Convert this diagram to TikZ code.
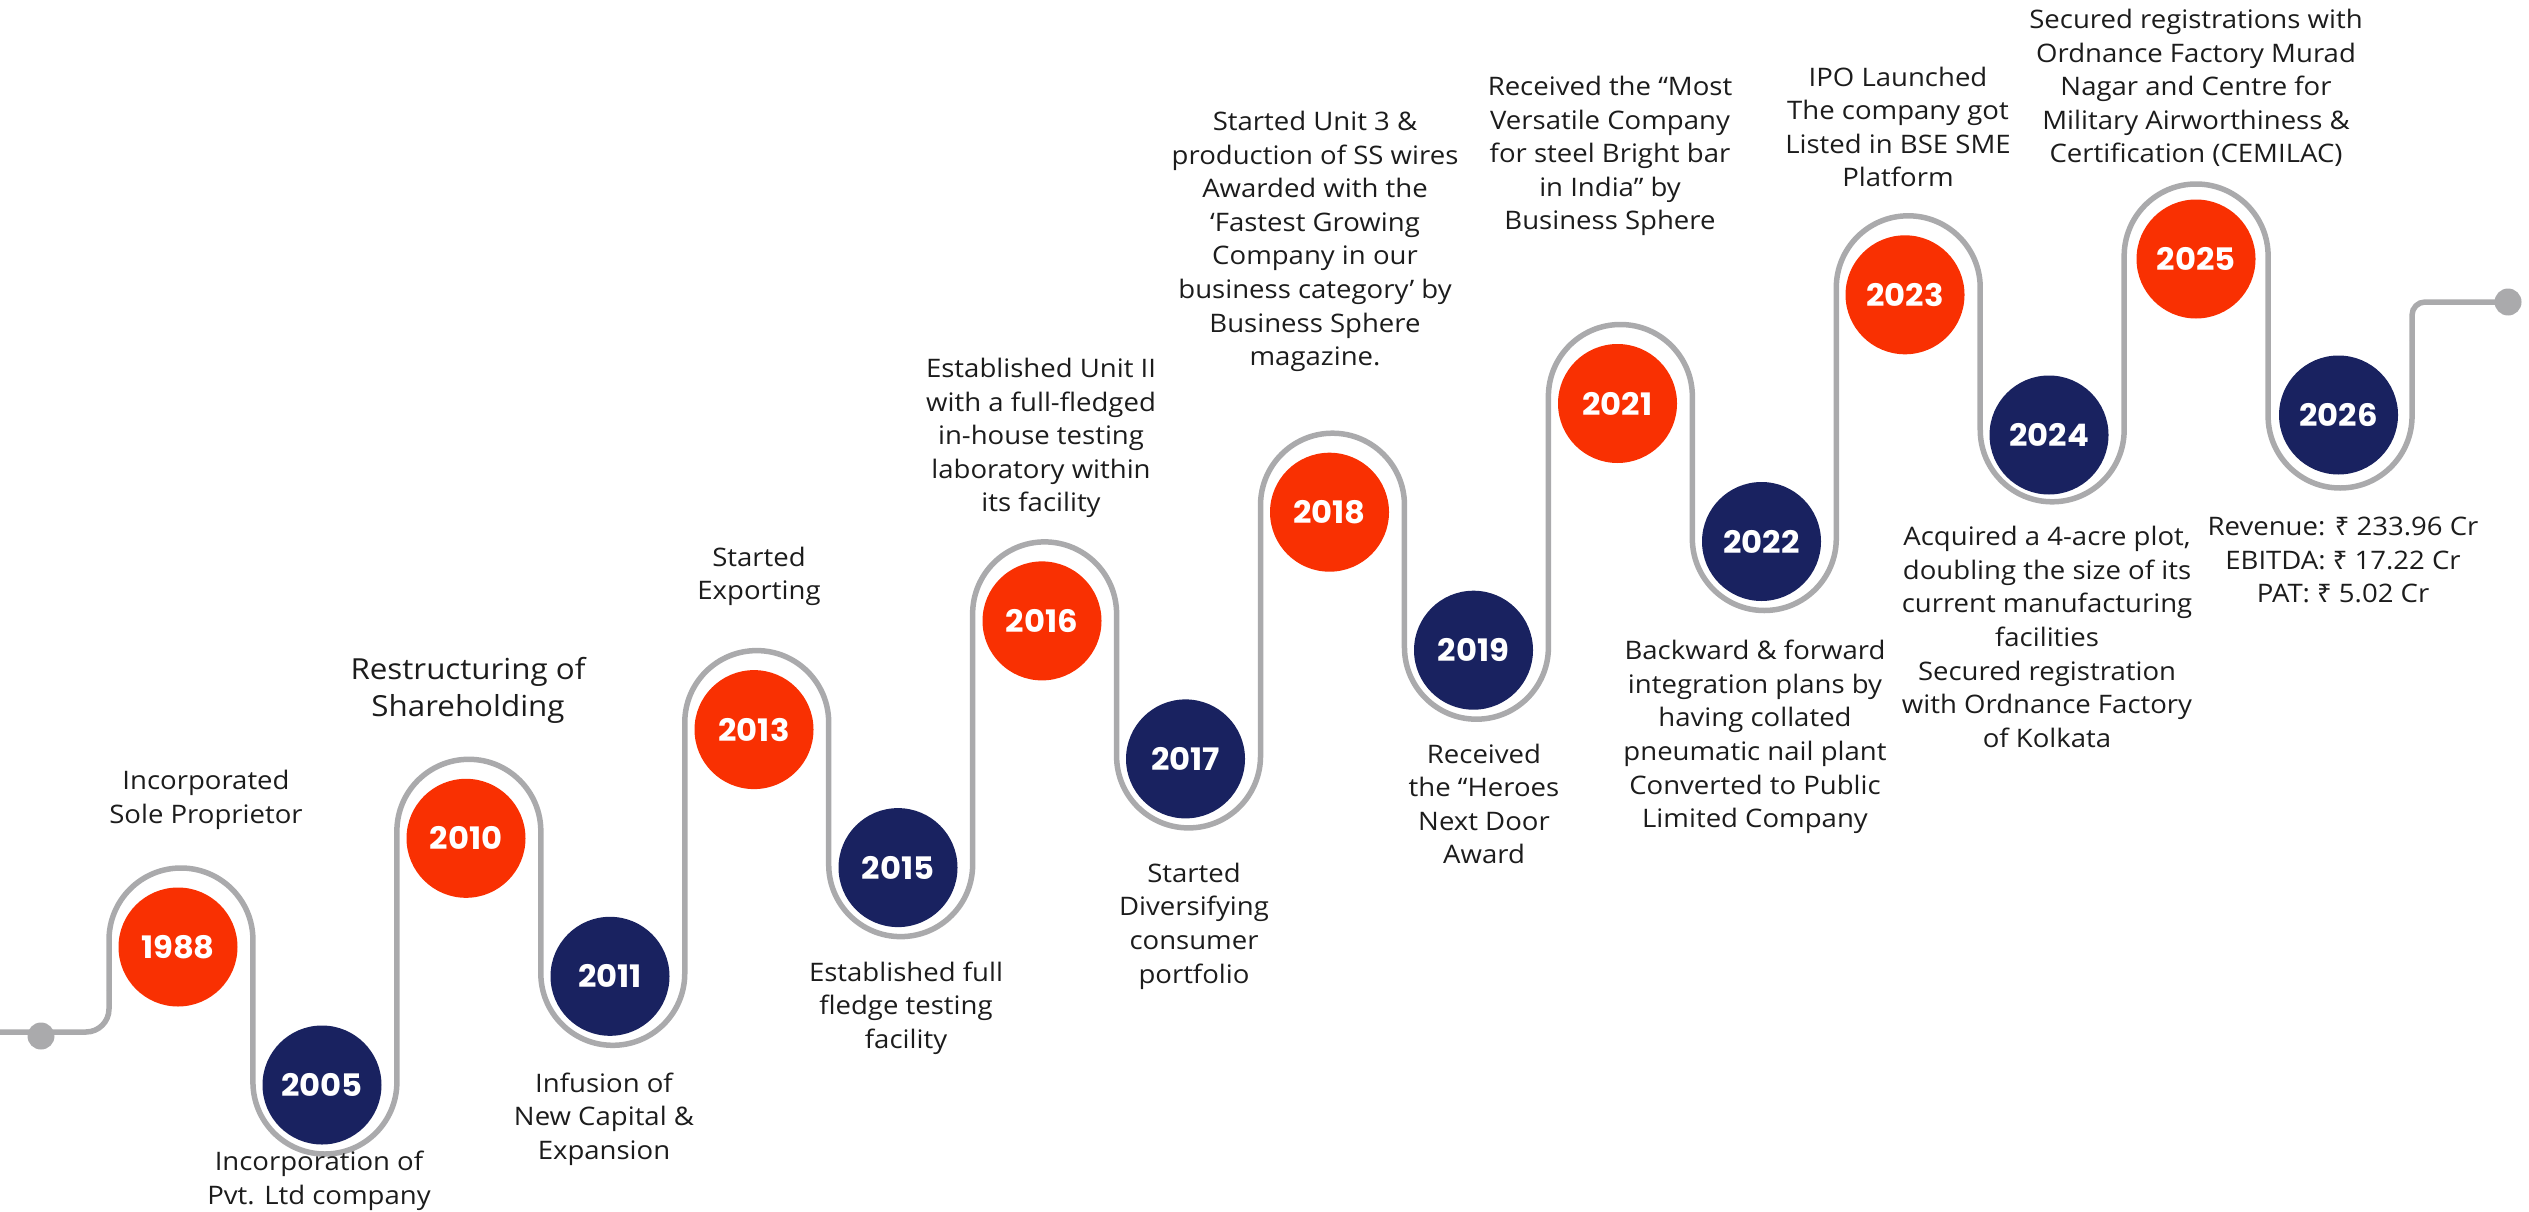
\documentclass[tikz,border=0pt]{standalone}
\usepackage{fontspec}
\setmainfont{Open Sans}[FakeStretch=1.08]
\newfontfamily\yearfont{Poppins}[FakeStretch=1.04]
\newfontfamily\rupeefont{Noto Sans}
\definecolor{orng}{RGB}{249,48,2}
\definecolor{navyc}{RGB}{25,34,96}
\definecolor{trk}{RGB}{170,170,172}
\definecolor{txt}{RGB}{28,28,28}
\newcommand\Rs{{\rupeefont ₹}}
\begin{document}
\begin{tikzpicture}[x=1pt,y=-1pt,
  track/.style={draw=trk, line width=5.5pt},
  yr/.style={circle, minimum size=119pt, inner sep=0pt, text=white, font=\yearfont\bfseries\fontsize{31}{31}\selectfont},
  oy/.style={yr, fill=orng},
  ny/.style={yr, fill=navyc},
  desc/.style={align=center, text=txt, inner sep=0pt, font=\fontsize{25.5}{33.6}\selectfont},
  bigdesc/.style={align=center, text=txt, inner sep=0pt, font=\fontsize{29}{37.5}\selectfont},
  enddot/.style={circle, fill=trk, minimum size=27pt, inner sep=0pt}]

\useasboundingbox (0,0) rectangle (2529,1212);

% track
\coordinate (s0) at (0,1032);
\coordinate (s1) at (109,990);
\coordinate (e1) at (2412.04,340);
\draw[track, rounded corners=23pt] (s0) -- (109,1032) -- (s1);
\draw[track, rounded corners=71.9pt] (s1) -- (109,868) -- (252.94,868) -- (252.94,1154) -- (396.88,1154) -- (396.88,759.3) -- (540.82,759.3) -- (540.82,1045.3) -- (684.76,1045.3) -- (684.76,650.6) -- (828.70,650.6) -- (828.70,936.6) -- (972.64,936.6) -- (972.64,541.9) -- (1116.58,541.9) -- (1116.58,827.9) -- (1260.52,827.9) -- (1260.52,433.2) -- (1404.46,433.2) -- (1404.46,719.2) -- (1548.40,719.2) -- (1548.40,324.5) -- (1692.34,324.5) -- (1692.34,610.5) -- (1836.28,610.5) -- (1836.28,215.8) -- (1980.22,215.8) -- (1980.22,501.8) -- (2124.16,501.8) -- (2124.16,184) -- (2268.10,184) -- (2268.10,488) -- (2412.04,488) -- (e1);
\node[enddot] (dA) at (41,1036) {};
\node[enddot] (dB) at (2508,302) {};
\draw[track, rounded corners=13pt] (e1) -- (2412.04,302) -- (dB.center);

% year circles
\node[oy] (y1988) at (178,947) {1988};
\node[ny] (y2005) at (322,1085) {2005};
\node[oy] (y2010) at (466,838.3) {2010};
\node[ny] (y2011) at (610,976.3) {2011};
\node[oy] (y2013) at (754,729.6) {2013};
\node[ny] (y2015) at (898,867.6) {2015};
\node[oy] (y2016) at (1042,620.9) {2016};
\node[ny] (y2017) at (1185.5,758.9) {2017};
\node[oy] (y2018) at (1329.5,512.2) {2018};
\node[ny] (y2019) at (1473.5,650.2) {2019};
\node[oy] (y2021) at (1617.5,403.5) {2021};
\node[ny] (y2022) at (1761.5,541.5) {2022};
\node[oy] (y2023) at (1905,294.8) {2023};
\node[ny] (y2024) at (2049,435) {2024};
\node[oy] (y2025) at (2196,259) {2025};
\node[ny] (y2026) at (2338.5,415) {2026};

% descriptions
\node[desc] (t1988) at (206,800) {Incorporated\\Sole Proprietor};
\node[desc] (t2005) at (319,1181) {Incorporation of\\Pvt. Ltd company};
\node[bigdesc] (t2010) at (468,690.5) {Restructuring of\\Shareholding};
\node[desc] (t2011) at (604,1119) {Infusion of\\New Capital \&\\Expansion};
\node[desc] (t2013) at (759,576.5) {Started\\Exporting};
\node[desc] (t2015) at (906,1008) {Established full\\fledge testing\\facility};
\node[desc] (t2016) at (1041,438) {Established Unit II\\with a full-fledged\\in-house testing\\laboratory within\\its facility};
\node[desc] (t2018) at (1315,241.5) {Started Unit 3 \&\\production of SS wires\\Awarded with the\\‘Fastest Growing\\Company in our\\business category’ by\\Business Sphere\\magazine.};
\node[desc] (t2017) at (1194,926) {Started\\Diversifying\\consumer\\portfolio};
\node[desc] (t2021) at (1610,156) {Received the “Most\\Versatile Company\\for steel Bright bar\\in India” by\\Business Sphere};
\node[desc] (t2019) at (1484,804) {Received\\the “Heroes\\Next Door\\Award};
\node[desc] (t2022) at (1755,737) {Backward \& forward\\integration plans by\\having collated\\pneumatic nail plant\\Converted to Public\\Limited Company};
\node[desc] (t2023) at (1898,127) {IPO Launched\\The company got\\Listed in BSE SME\\Platform};
\node[desc] (t2025) at (2196,88) {Secured registrations with\\Ordnance Factory Murad\\Nagar and Centre for\\Military Airworthiness \&\\Certification (CEMILAC)};
\node[desc] (t2024) at (2047,637) {Acquired a 4-acre plot,\\doubling the size of its\\current manufacturing\\facilities\\Secured registration\\with Ordnance Factory\\of Kolkata};
\node[desc] (t2026) at (2343,560) {Revenue: \Rs\ 233.96 Cr\\EBITDA: \Rs\ 17.22 Cr\\PAT: \Rs\ 5.02 Cr};
\end{tikzpicture}
\end{document}
